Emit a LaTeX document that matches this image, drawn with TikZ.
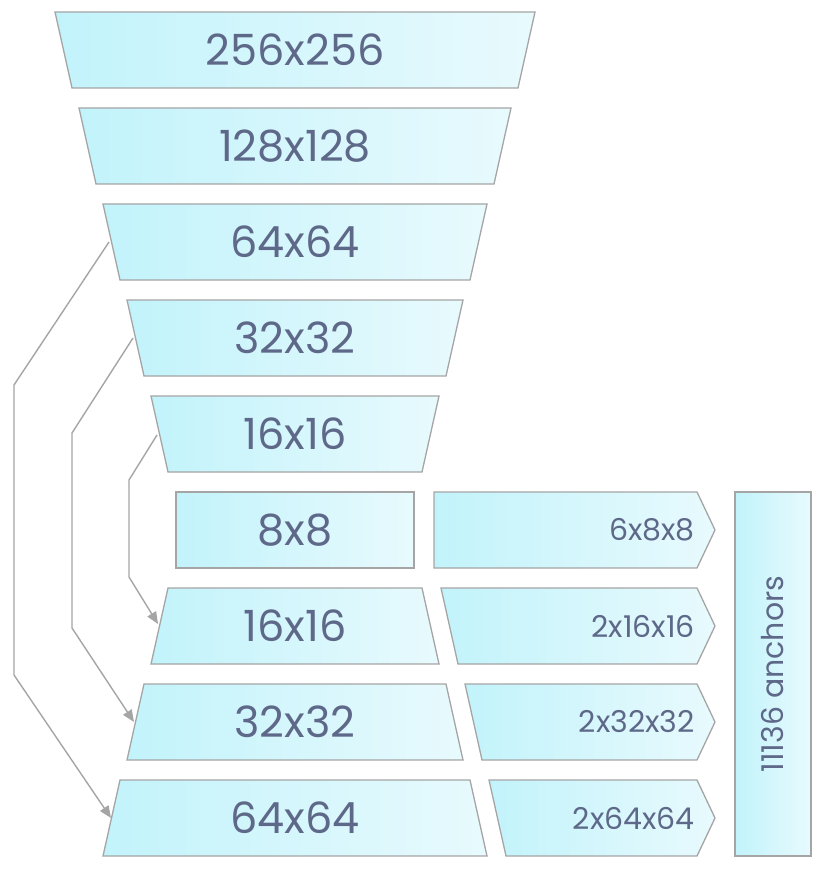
\documentclass[tikz,border=0pt]{standalone}
\usepackage{fontspec}
\setmainfont{Poppins}
\usetikzlibrary{arrows.meta}
\definecolor{fillL}{RGB}{194,243,251}
\definecolor{fillR}{RGB}{232,250,253}
\definecolor{bord}{RGB}{165,165,165}
\definecolor{txt}{RGB}{94,104,136}
\definecolor{conn}{RGB}{165,165,165}
\tikzset{
  boxshape/.style={draw=bord, line width=1.3pt, left color=fillL, right color=fillR},
  biglabel/.style={text=txt, font=\fontsize{43}{50}\selectfont, inner sep=0pt},
  smalllabel/.style={text=txt, font=\fontsize{30}{36}\selectfont, inner sep=0pt, anchor=east},
  connector/.style={draw=conn, line width=1.4pt, -{Triangle[length=12pt,width=10pt]}},
}
% name, ytop, top halfwidth, bottom halfwidth, label
\newcommand\trapbox[5]{%
  \path[boxshape] (295-#3,#2) -- (295+#3,#2) -- (295+#4,#2+76) -- (295-#4,#2+76) -- cycle;
  \node[biglabel] (#1) at (295,#2+38) {#5};
}
% name, ytop, top-left x, bottom-left x, label
\newcommand\arrowbox[5]{%
  \path[boxshape] (#3,#2) -- (697,#2) -- (715,#2+38) -- (697,#2+76) -- (#4,#2+76) -- cycle;
  \node[smalllabel] (#1) at (695,#2+38) {#5};
}
\begin{document}
\begin{tikzpicture}[x=1pt,y=-1pt]
\useasboundingbox (0,0) rectangle (824,874);
\trapbox{d256}{12}{240}{223}{256x256}
\trapbox{d128}{108}{216}{199}{128x128}
\trapbox{d64}{204}{192}{175}{64x64}
\trapbox{d32}{300}{168}{151}{32x32}
\trapbox{d16}{396}{144}{127}{16x16}
\path[boxshape] (176,492) rectangle (414,568);
\node[biglabel] (m8) at (295,530) {8x8};
\trapbox{u16}{588}{127}{144}{16x16}
\trapbox{u32}{684}{151}{168}{32x32}
\trapbox{u64}{780}{175}{192}{64x64}
\arrowbox{p8}{492}{434}{434}{6x8x8}
\arrowbox{p16}{588}{441}{458}{2x16x16}
\arrowbox{p32}{684}{465}{482}{2x32x32}
\arrowbox{p64}{780}{489}{506}{2x64x64}
\path[boxshape] (735,492) rectangle (811,856);
\node[smalllabel, rotate=90, anchor=center] (anch) at (773,674) {11136 anchors};
% connectors
\coordinate (s64) at (109,242);
\coordinate (e64) at (111,818);
\coordinate (s32) at (133,338);
\coordinate (e32) at (134,722);
\coordinate (s16) at (157,435);
\coordinate (e16) at (158,624);
\draw[connector] (s64) -- (14,385) -- (14,675) -- (e64);
\draw[connector] (s32) -- (72,433) -- (72,628) -- (e32);
\draw[connector] (s16) -- (129,480) -- (129,577) -- (e16);
\end{tikzpicture}
\end{document}
